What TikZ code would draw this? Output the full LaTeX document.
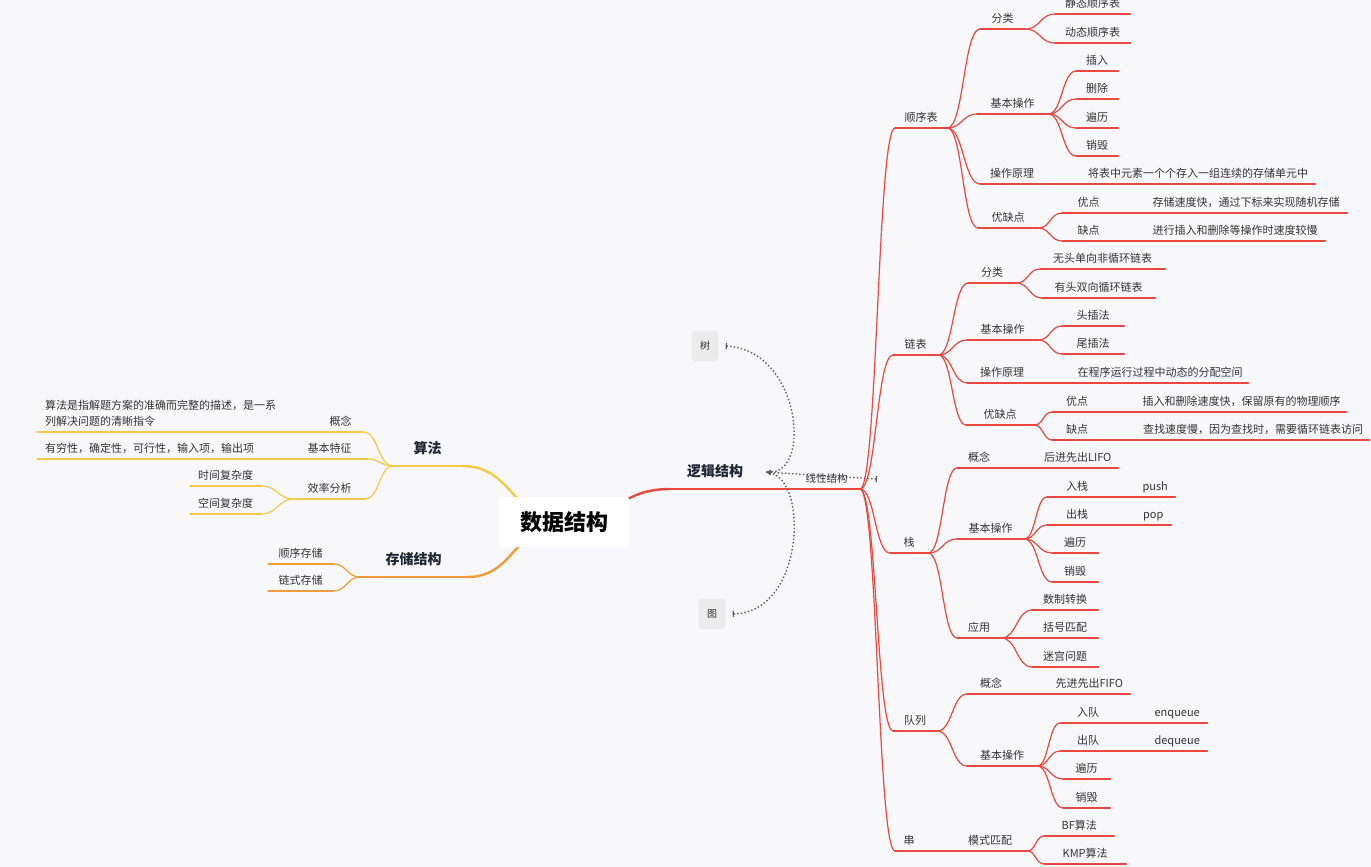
\documentclass[tikz,border=0pt]{standalone}
\usepackage{fontspec}
\setmainfont{Noto Sans CJK SC}
\usetikzlibrary{arrows.meta,calc}

\definecolor{mmred}{HTML}{E8483F}
\definecolor{mmyel}{HTML}{F5C945}
\definecolor{mmorg}{HTML}{F29B38}
\definecolor{bgc}{HTML}{F8F8FA}
\definecolor{txtc}{HTML}{333333}
\definecolor{titc}{HTML}{1E2633}
\definecolor{relc}{HTML}{5E5E5E}
\definecolor{tagc}{HTML}{EBEBEC}

\tikzset{
  topic/.style={anchor=south west, inner xsep=0pt, inner ysep=3pt, text depth=3.5pt,
    text=txtc, font=\fontsize{11}{13}\selectfont},
  title/.style={topic, inner ysep=6pt, text depth=6.5pt, text=titc,
    font=\fontsize{14}{16}\selectfont\bfseries},
  note/.style={topic, align=left, inner xsep=8pt, font=\fontsize{11}{16}\selectfont},
  redln/.style={draw=mmred, line width=1.2pt, line cap=round},
  yelln/.style={draw=mmyel, line width=1.2pt, line cap=round},
  orgln/.style={draw=mmorg, line width=1.2pt, line cap=round},
  tag/.style={fill=tagc, rounded corners=3pt, minimum width=27, minimum height=30,
    inner sep=0pt, text=txtc, font=\fontsize{10}{12}\selectfont},
  rootbox/.style={fill=white, rounded corners=4pt, minimum width=132, minimum height=50,
    text=black, font=\fontsize{22}{26}\selectfont\bfseries},
  rel/.style={draw=relc, line width=1.4pt, dash pattern=on 1.4pt off 2.2pt,
    {Bar[width=6pt,line width=1.2pt]}-{Latex[length=6pt,width=5pt]}}
}

% S-shaped branch from one anchor to another
\newcommand{\linkto}[3]{\draw[#3] let \p1=(#1), \p2=(#2) in (\p1)
  .. controls ({0.5*\x1+0.5*\x2},\y1) and ({0.5*\x1+0.5*\x2},\y2) .. (\p2);}

\begin{document}
\begin{tikzpicture}[x=1pt, y=-1pt]
\useasboundingbox (0,0) rectangle (1371,867);
\fill[bgc] (0,0) rectangle (1371,867);

% Centre
\coordinate (rootc) at (564,522);

% Logical structure, right side
\node[title, minimum width=90] (lj) at (670,489) {逻辑结构};
\coordinate (ljfan) at (860,489);
\node[topic, minimum width=52] (sx) at (895,128) {顺序表};
\node[topic, minimum width=45] (lb) at (893,355) {链表};
\node[topic, minimum width=38] (zh) at (890,553) {栈};
\node[topic, minimum width=44] (dl) at (893,731) {队列};
\node[topic, minimum width=28] (ch) at (895,851) {串};

% Sequential list
\node[topic, minimum width=45] (sxfl) at (980,29) {分类};
\node[topic, minimum width=75] (sxjt) at (1055,14) {静态顺序表};
\node[topic, minimum width=75] (sxdt) at (1055,43) {动态顺序表};
\node[topic, minimum width=71] (sxcz) at (977,114) {基本操作};
\node[topic, minimum width=42] (sxcr) at (1076,71) {插入};
\node[topic, minimum width=42] (sxsc) at (1076,99) {删除};
\node[topic, minimum width=42] (sxbl) at (1076,128) {遍历};
\node[topic, minimum width=42] (sxxh) at (1076,156) {销毁};
\node[topic, minimum width=64] (sxyl) at (980,184) {操作原理};
\node[topic, minimum width=234] (sxylc) at (1081,184) {将表中元素一个个存入一组连续的存储单元中};
\node[topic, minimum width=60] (sxyq) at (978,228) {优缺点};
\node[topic, minimum width=53] (sxyd) at (1062,213) {优点};
\node[topic, minimum width=202] (sxydc) at (1145,213) {存储速度快，通过下标来实现随机存储};
\node[topic, minimum width=53] (sxqd) at (1062,241) {缺点};
\node[topic, minimum width=180] (sxqdc) at (1145,241) {进行插入和删除等操作时速度较慢};

% Linked list
\node[topic, minimum width=48] (lbfl) at (968,283) {分类};
\node[topic, minimum width=125] (lbwt) at (1040,269) {无头单向非循环链表};
\node[topic, minimum width=113] (lbyt) at (1042,298) {有头双向循环链表};
\node[topic, minimum width=71] (lbcz) at (967,340) {基本操作};
\node[topic, minimum width=62] (lbtc) at (1062,326) {头插法};
\node[topic, minimum width=62] (lbwc) at (1062,354) {尾插法};
\node[topic, minimum width=70] (lbyl) at (967,383) {操作原理};
\node[topic, minimum width=176] (lbylc) at (1072,383) {在程序运行过程中动态的分配空间};
\node[topic, minimum width=68] (lbyq) at (966,425) {优缺点};
\node[topic, minimum width=50] (lbyd) at (1052,412) {优点};
\node[topic, minimum width=209] (lbydc) at (1137,412) {插入和删除速度快，保留原有的物理顺序};
\node[topic, minimum width=50] (lbqd) at (1052,440) {缺点};
\node[topic, minimum width=232] (lbqdc) at (1137,440) {查找速度慢，因为查找时，需要循环链表访问};

% Stack
\node[topic, minimum width=44] (zhgn) at (957,468) {概念};
\node[topic, minimum width=81] (zhgnc) at (1037,468) {后进先出LIFO};
\node[topic, minimum width=67] (zhcz) at (957,539) {基本操作};
\node[topic, minimum width=60] (zhrz) at (1047,497) {入栈};
\node[topic, minimum width=40] (zhrzc) at (1135,497) {push};
\node[topic, minimum width=60] (zhcs) at (1047,525) {出栈};
\node[topic, minimum width=36] (zhcsc) at (1135,525) {pop};
\node[topic, minimum width=46] (zhbl) at (1052,553) {遍历};
\node[topic, minimum width=46] (zhxh) at (1052,582) {销毁};
\node[topic, minimum width=44] (zhyy) at (957,638) {应用};
\node[topic, minimum width=66] (zhsz) at (1032,610) {数制转换};
\node[topic, minimum width=66] (zhkh) at (1032,638) {括号匹配};
\node[topic, minimum width=66] (zhmg) at (1032,667) {迷宫问题};

% Queue
\node[topic, minimum width=48] (dlgn) at (967,694) {概念};
\node[topic, minimum width=82] (dlgnc) at (1048,694) {先进先出FIFO};
\node[topic, minimum width=70] (dlcz) at (967,766) {基本操作};
\node[topic, minimum width=56] (dlrd) at (1060,723) {入队};
\node[topic, minimum width=60] (dlrdc) at (1147,723) {enqueue};
\node[topic, minimum width=56] (dlcd) at (1060,751) {出队};
\node[topic, minimum width=60] (dlcdc) at (1147,751) {dequeue};
\node[topic, minimum width=47] (dlbl) at (1063,779) {遍历};
\node[topic, minimum width=47] (dlxh) at (1063,808) {销毁};

% String
\node[topic, minimum width=74] (chms) at (953,851) {模式匹配};
\node[topic, minimum width=70] (chbf) at (1044,836) {BF算法};
\node[topic, minimum width=82] (chkmp) at (1044,864) {KMP算法};

% Algorithm, left side
\node[title, minimum width=69] (sf) at (393,466) {算法};
\node[topic, minimum width=45] (sfgn) at (318,432) {概念};
\node[note, text width=265pt, text depth=19.5pt] (sfgnc) at (37,432) {算法是指解题方案的准确而完整的描述，是一系\\列解决问题的清晰指令};
\node[topic, minimum width=75] (sftz) at (292,459) {基本特征};
\node[note, text width=239pt] (sftzc) at (37,459) {有穷性，确定性，可行性，输入项，输出项};
\node[topic, minimum width=71] (sfxl) at (294,499) {效率分析};
\node[topic, minimum width=71] (sfsj) at (190,486) {时间复杂度};
\node[topic, minimum width=71] (sfkj) at (190,514) {空间复杂度};

% Storage structure
\node[title, minimum width=107] (cc) at (360,577) {存储结构};
\node[topic, minimum width=65] (ccsx) at (268,564) {顺序存储};
\node[topic, minimum width=65] (cclx) at (268,591) {链式存储};

% Tree and graph
\node[tag] (shu) at (705,346) {树};
\node[tag] (tu) at (712,614) {图};
\coordinate (ljin) at (765,472);
\coordinate (xxjg) at (877,479);

% Underlines
\foreach \n in {lj, sx, lb, zh, dl, ch, sxfl, sxjt, sxdt, sxcz, sxcr, sxsc, sxbl, sxxh,
  sxyl, sxylc, sxyq, sxyd, sxydc, sxqd, sxqdc, lbfl, lbwt, lbyt, lbcz, lbtc, lbwc,
  lbyl, lbylc, lbyq, lbyd, lbydc, lbqd, lbqdc, zhgn, zhgnc, zhcz, zhrz, zhrzc, zhcs,
  zhcsc, zhbl, zhxh, zhyy, zhsz, zhkh, zhmg, dlgn, dlgnc, dlcz, dlrd, dlrdc, dlcd,
  dlcdc, dlbl, dlxh, chms, chbf, chkmp}
  \draw[redln] (\n.south west) -- (\n.south east);
\foreach \n in {sf, sfgn, sfgnc, sftz, sftzc, sfxl, sfsj, sfkj}
  \draw[yelln] (\n.south west) -- (\n.south east);
\foreach \n in {cc, ccsx, cclx}
  \draw[orgln] (\n.south west) -- (\n.south east);
\draw[redln] (lj.south east) -- (ljfan);

% Branches
\foreach \b in {sx, lb, zh, dl, ch}
  \linkto{ljfan}{\b.south west}{redln};
\foreach \a/\b in {sx/sxfl, sx/sxcz, sx/sxyl, sx/sxyq, sxfl/sxjt, sxfl/sxdt,
  sxcz/sxcr, sxcz/sxsc, sxcz/sxbl, sxcz/sxxh, sxyl/sxylc, sxyq/sxyd, sxyq/sxqd,
  sxyd/sxydc, sxqd/sxqdc, lb/lbfl, lb/lbcz, lb/lbyl, lb/lbyq, lbfl/lbwt, lbfl/lbyt,
  lbcz/lbtc, lbcz/lbwc, lbyl/lbylc, lbyq/lbyd, lbyq/lbqd, lbyd/lbydc, lbqd/lbqdc,
  zh/zhgn, zh/zhcz, zh/zhyy, zhgn/zhgnc, zhcz/zhrz, zhcz/zhcs, zhcz/zhbl, zhcz/zhxh,
  zhrz/zhrzc, zhcs/zhcsc, zhyy/zhsz, zhyy/zhkh, zhyy/zhmg, dl/dlgn, dl/dlcz,
  dlgn/dlgnc, dlcz/dlrd, dlcz/dlcd, dlcz/dlbl, dlcz/dlxh, dlrd/dlrdc, dlcd/dlcdc,
  ch/chms, chms/chbf, chms/chkmp}
  \linkto{\a.south east}{\b.south west}{redln};
\foreach \a/\b in {sf/sfgn, sf/sftz, sf/sfxl, sfxl/sfsj, sfxl/sfkj}
  \linkto{\a.south west}{\b.south east}{yelln};
\foreach \a/\b in {cc/ccsx, cc/cclx}
  \linkto{\a.south west}{\b.south east}{orgln};

% Main branches from the centre
\linkto{rootc}{lj.south west}{redln, line width=2.4pt};
\linkto{rootc}{sf.south east}{yelln, line width=2.4pt};
\linkto{rootc}{cc.south east}{orgln, line width=2.4pt};
\node[rootbox] (root) at (rootc) {数据结构};

% Relationships
\draw[rel] ([xshift=7pt]shu.east) .. controls (800,350) and (812,472) .. (ljin);
\draw[rel] ([xshift=7pt]tu.east) .. controls (805,612) and (808,480) .. (ljin);
\draw[rel] (xxjg) -- node[pos=0.45, yshift=-3pt, text=txtc, font=\fontsize{10.5}{12}\selectfont] {线性结构} (ljin);

\end{tikzpicture}
\end{document}
